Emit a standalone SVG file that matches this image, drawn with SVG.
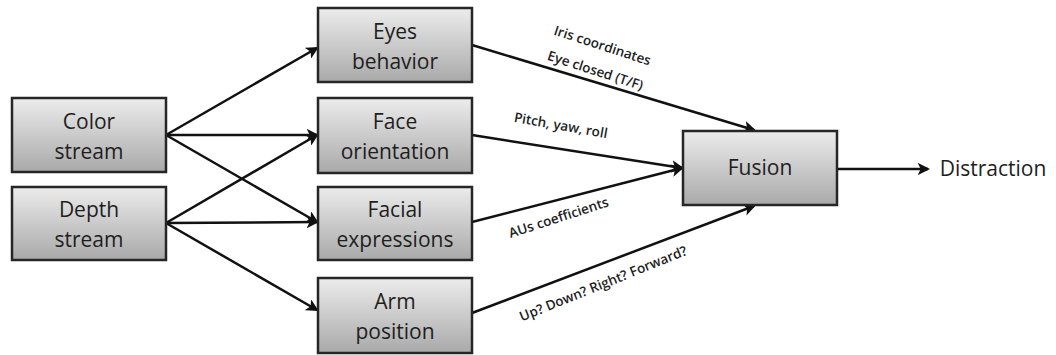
<svg xmlns="http://www.w3.org/2000/svg" width="1056" height="355" viewBox="0 0 1056 355">
<style>
.box{fill:url(#g);stroke:#262626;stroke-width:2.5}
.t{font-family:"Open Sans","Noto Sans",sans-serif;font-size:21px;font-weight:500;fill:#1e1e1e;text-anchor:middle}
.l{font-family:"Open Sans","Noto Sans",sans-serif;font-size:13.5px;font-weight:600;fill:#1e1e1e;text-anchor:middle}
.c{stroke:#111;stroke-width:2.5;fill:none;marker-end:url(#a)}
</style>
<defs>
<linearGradient id="g" x1="0" y1="0" x2="0" y2="1">
<stop offset="0" stop-color="#ececec"/>
<stop offset="1" stop-color="#a9a9a9"/>
</linearGradient>
<marker id="a" viewBox="0 0 12 12" refX="10" refY="6" markerWidth="5" markerHeight="5" orient="auto" markerUnits="strokeWidth">
<path d="M0,0 L12,6 L0,12 L3,6 z" fill="#111"/>
</marker>
</defs>
<rect width="1056" height="355" fill="#fff"/>
<g id="connectors">
<line class="c" x1="166" y1="135" x2="317" y2="48"/>
<line class="c" x1="166" y1="135" x2="317" y2="135"/>
<line class="c" x1="166" y1="135" x2="317" y2="222"/>
<line class="c" x1="166" y1="223" x2="317" y2="135"/>
<line class="c" x1="166" y1="223" x2="317" y2="222"/>
<line class="c" x1="166" y1="223" x2="317" y2="310"/>
<line class="c" x1="472" y1="45" x2="754" y2="130"/>
<line class="c" x1="472" y1="135" x2="682" y2="168"/>
<line class="c" x1="472" y1="222" x2="682" y2="168"/>
<line class="c" x1="472" y1="313" x2="754" y2="206"/>
<line class="c" x1="837" y1="169" x2="928" y2="169"/>
<text class="l" transform="translate(601,50) rotate(18)">Iris coordinates</text>
<text class="l" transform="translate(594,75) rotate(18)">Eye closed (T/F)</text>
<text class="l" transform="translate(560,130) rotate(10)">Pitch, yaw, roll</text>
<text class="l" transform="translate(560,222) rotate(-18)">AUs coefficients</text>
<text class="l" transform="translate(605,288) rotate(-22)">Up? Down? Right? Forward?</text>
</g>
<g id="color"><rect class="box" x="12" y="98" width="154" height="74"/><text class="t" x="89" y="129">Color</text><text class="t" x="89" y="159">stream</text></g>
<g id="depth"><rect class="box" x="12" y="187" width="154" height="73"/><text class="t" x="89" y="217">Depth</text><text class="t" x="89" y="247">stream</text></g>
<g id="eyes"><rect class="box" x="318" y="8" width="154" height="74"/><text class="t" x="395" y="39">Eyes</text><text class="t" x="395" y="69">behavior</text></g>
<g id="face"><rect class="box" x="318" y="98" width="154" height="75"/><text class="t" x="395" y="129">Face</text><text class="t" x="395" y="159">orientation</text></g>
<g id="facial"><rect class="box" x="318" y="187" width="154" height="73"/><text class="t" x="395" y="217">Facial</text><text class="t" x="395" y="247">expressions</text></g>
<g id="arm"><rect class="box" x="318" y="278" width="154" height="75"/><text class="t" x="395" y="309">Arm</text><text class="t" x="395" y="339">position</text></g>
<g id="fusion"><rect class="box" x="683" y="131" width="154" height="74"/><text class="t" x="760" y="175">Fusion</text></g>
<g id="distraction"><text class="t" x="993" y="176">Distraction</text></g>
</svg>
